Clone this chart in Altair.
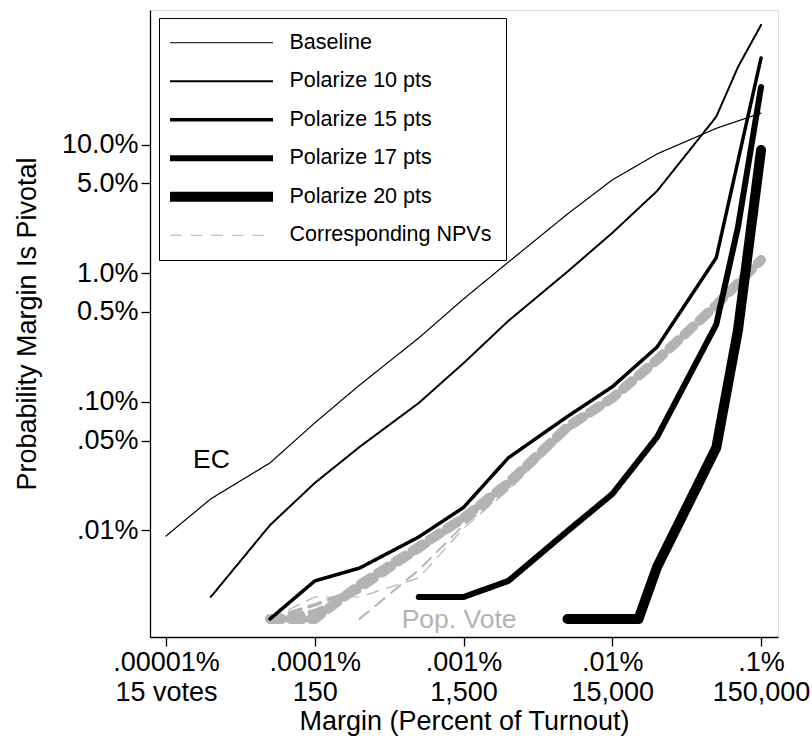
import altair as alt
import pandas as pd

# ---- data: probability (percent) that the winning margin is at most x (percent of turnout)
SERIES = ["Baseline", "Polarize 10 pts", "Polarize 15 pts", "Polarize 17 pts",
          "Polarize 20 pts", "Corresponding NPVs"]
COLORS = ["black", "black", "black", "black", "black", "#b3b3b3"]
WIDTHS = [1.2, 2.0, 3.5, 6.0, 10.0, 1.2]
DASHES = [[1, 0], [1, 0], [1, 0], [1, 0], [1, 0], [12, 8.5]]

# Electoral College curves
base_x = [1e-5, 2e-5, 5e-5, 1e-4, 2e-4, 5e-4, 1e-3, 2e-3, 5e-3, 1e-2, 2e-2, 5e-2, 1e-1]
base_p = [0.00906, 0.0176, 0.0335, 0.0686, 0.135, 0.314, 0.631, 1.22, 2.89, 5.32, 8.47, 13.4, 17.6]

pol10_x = [2e-5, 5e-5, 1e-4, 2e-4, 5e-4, 1e-3, 2e-3, 5e-3, 1e-2, 2e-2, 5e-2, 7e-2, 1e-1]
pol10_p = [0.00304, 0.0110, 0.0234, 0.0446, 0.098, 0.200, 0.426, 1.03, 2.06, 4.36, 16.5, 40.2, 85.3]

pol15_x = [5e-5, 1e-4, 2e-4, 5e-4, 1e-3, 2e-3, 5e-3, 1e-2, 2e-2, 5e-2, 1e-1]
pol15_p = [0.00205, 0.00405, 0.0051, 0.0089, 0.0151, 0.0367, 0.077, 0.131, 0.267, 1.32, 47.2]

pol17_x = [5e-4, 1e-3, 2e-3, 5e-3, 1e-2, 2e-2, 5e-2, 7e-2, 1e-1]
pol17_p = [0.00304, 0.00304, 0.00405, 0.0099, 0.0192, 0.0533, 0.40, 2.29, 28.1]

pol20_x = [5e-3, 1.5e-2, 2e-2, 5e-2, 7e-2, 1e-1]
pol20_p = [0.00205, 0.00205, 0.0052, 0.0440, 0.362, 9.1]

# Corresponding national popular vote curves (one per scenario)
npv_base_x = [5e-5, 1e-4, 2e-4, 5e-4, 1e-3, 2e-3, 5e-3, 1e-2, 2e-2, 5e-2, 1e-1]
npv_base_p = [0.00205, 0.00304, 0.00304, 0.00427, 0.0104, 0.0207, 0.0583, 0.1035, 0.204, 0.547, 1.22]

npv_10_x = [2e-4, 5e-4, 1e-3, 2e-3, 5e-3, 1e-2, 2e-2, 5e-2, 1e-1]
npv_10_p = [0.00205, 0.00493, 0.0110, 0.0207, 0.0583, 0.1035, 0.204, 0.547, 1.22]

npv_15_x = [5e-5, 1e-4, 2e-4, 5e-4, 1e-3, 2e-3, 5e-3, 1e-2, 2e-2, 5e-2, 1e-1]
npv_15_p = [0.00205, 0.00264, 0.00357, 0.00681, 0.0121, 0.0225, 0.061, 0.105, 0.208, 0.555, 1.24]

npv_17_x = [5e-5, 1e-4, 2e-4, 5e-4, 1e-3, 2e-3, 5e-3, 1e-2, 2e-2, 5e-2, 1e-1]
npv_17_p = [0.00205, 0.00232, 0.00344, 0.00705, 0.0130, 0.0230, 0.062, 0.106, 0.210, 0.560, 1.25]

npv_20_x = [5e-5, 1e-4, 2e-4, 5e-4, 1e-3, 2e-3, 5e-3, 1e-2, 2e-2, 5e-2, 1e-1]
npv_20_p = [0.00205, 0.00205, 0.00377, 0.00745, 0.0125, 0.0234, 0.0638, 0.107, 0.212, 0.566, 1.27]

# in-plot labels
note_text = ["EC", "Pop. Vote"]
note_x = [1.52e-5, 3.84e-4]
note_p = [0.0306, 0.00175]
note_color = ["black", "#b3b3b3"]

# axis ticks
x_ticks = [1e-5, 1e-4, 1e-3, 1e-2, 1e-1]
x_top = [".00001%", ".0001%", ".001%", ".01%", ".1%"]
x_bottom = ["15 votes", "150", "1,500", "15,000", "150,000"]
y_ticks = [0.01, 0.05, 0.1, 0.5, 1, 5, 10]
y_labels = [".01%", ".05%", ".10%", "0.5%", "1.0%", "5.0%", "10.0%"]

FONT = "Liberation Sans"
GREY = "#b3b3b3"


def frame(name, xs, ps):
    return pd.DataFrame({"series": name, "margin": xs, "prob": ps})


ec = pd.concat([
    frame(SERIES[0], base_x, base_p),
    frame(SERIES[1], pol10_x, pol10_p),
    frame(SERIES[2], pol15_x, pol15_p),
    frame(SERIES[3], pol17_x, pol17_p),
    frame(SERIES[4], pol20_x, pol20_p),
], ignore_index=True)

npv_sets = [
    (npv_base_x, npv_base_p, WIDTHS[0]),
    (npv_10_x, npv_10_p, WIDTHS[1]),
    (npv_15_x, npv_15_p, WIDTHS[2]),
    (npv_17_x, npv_17_p, WIDTHS[3]),
    (npv_20_x, npv_20_p, WIDTHS[4]),
]


def label_expr(values, labels):
    expr = "''"
    for v, lab in reversed(list(zip(values, labels))):
        expr = f"abs(datum.value - {v}) < {v * 1e-3} ? {lab} : ({expr})"
    return expr


x_lab = label_expr(x_ticks, [f"['{a}', '{b}']" for a, b in zip(x_top, x_bottom)])
y_lab = label_expr(y_ticks, [f"'{a}'" for a in y_labels])

x_scale = alt.Scale(type="log", domain=[7.81e-6, 0.130], nice=False)
y_scale = alt.Scale(type="log", domain=[0.001485, 111.5], nice=False)

axis_common = dict(grid=False, domainColor="black", domainWidth=1.3, tickColor="black",
                   tickWidth=1.3, tickSize=9, labelFont=FONT, labelFontSize=27,
                   labelColor="black", titleFont=FONT, titleFontSize=27,
                   titleFontWeight="normal", titleColor="black")

x_axis = alt.Axis(values=x_ticks, labelExpr=x_lab, title="Margin (Percent of Turnout)",
                  labelPadding=3, labelLineHeight=30, titlePadding=3,
                  labelFlush=False, labelOverlap=False, **axis_common)
y_axis = alt.Axis(values=y_ticks, labelExpr=y_lab, title="Probability Margin Is Pivotal",
                  labelPadding=3, titlePadding=20, labelOverlap=False, **axis_common)

X = alt.X("margin:Q", scale=x_scale, axis=x_axis)
Y = alt.Y("prob:Q", scale=y_scale, axis=y_axis)

layers = []
for xs, ps, w in npv_sets:
    layers.append(
        alt.Chart(pd.DataFrame({"margin": xs, "prob": ps}))
        .mark_line(color=GREY, strokeWidth=w, strokeDash=[12, 8.5],
                   strokeCap="round", strokeJoin="round")
        .encode(x=X, y=Y)
    )

# legend key: a long horizontal stroke drawn as a custom symbol path; the small
# symbol size keeps every row as tall as its label so the rows stay evenly spaced
legend = alt.Legend(title=None, orient="none", legendX=9, legendY=8,
                    labelFont=FONT, labelFontSize=21.5, labelColor="black", labelLimit=0,
                    labelExpr="datum.label + '\u00a0\u00a0'",
                    symbolType="M-2.5,0H16.23", symbolSize=121, labelOffset=95,
                    strokeColor="black", fillColor="white", padding=14,
                    rowPadding=-2.5, gridAlign="all")

lines = (
    alt.Chart(ec)
    .mark_line(strokeCap="round", strokeJoin="round")
    .encode(
        x=X, y=Y,
        color=alt.Color("series:N", scale=alt.Scale(type="ordinal", domain=SERIES, range=COLORS), legend=legend),
        strokeWidth=alt.StrokeWidth("series:N", scale=alt.Scale(type="ordinal", domain=SERIES, range=WIDTHS), legend=legend),
        strokeDash=alt.StrokeDash("series:N", scale=alt.Scale(type="ordinal", domain=SERIES, range=DASHES), legend=legend),
    )
)
layers.append(lines)

notes = (
    alt.Chart(pd.DataFrame({"text": note_text, "margin": note_x, "prob": note_p, "c": note_color}))
    .mark_text(align="left", baseline="alphabetic", font=FONT, fontSize=26.5)
    .encode(x="margin:Q", y="prob:Q", text="text:N", color=alt.Color("c:N", scale=None, legend=None))
)
layers.append(notes)

chart = (
    alt.layer(*layers)
    .properties(width=628, height=627,
                padding={"left": 150, "top": 10, "right": 34, "bottom": 103},
                autosize=alt.AutoSizeParams(type="none"))
    .configure_view(stroke=None)
    .configure(background="white")
)

chart.save("out.html", embed_options={"renderer": "svg", "actions": False})
